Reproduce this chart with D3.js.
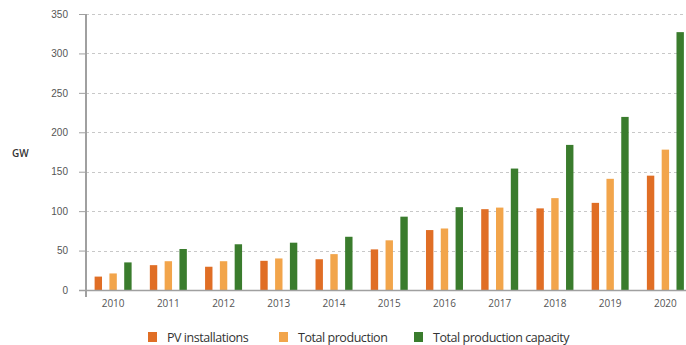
<!DOCTYPE html>
<html>
<head>
<meta charset="utf-8">
<script src="https://cdn.jsdelivr.net/npm/d3@7"></script>
<style>
  body { margin: 0; background: #fff; }
  svg { display: block; font-family: "Open Sans", "Noto Sans", sans-serif; }
</style>
</head>
<body>
<svg id="chart" width="686" height="345"></svg>
<script>
/*globals d3*/
var years = ["2010", "2011", "2012", "2013", "2014", "2015", "2016", "2017", "2018", "2019", "2020"];
var seriesNames = ["PV installations", "Total production", "Total production capacity"];
var pvInstallations = [17, 31.5, 29.5, 37, 39, 51.5, 76, 102.5, 103.5, 110.5, 145];
var totalProduction = [21, 36.5, 36.5, 40, 45.5, 63, 78, 104.5, 116.5, 141, 178];
var productionCapacity = [35, 52, 58, 60, 67.5, 93, 105, 154, 184, 219.5, 327];
var yTicks = [0, 50, 100, 150, 200, 250, 300, 350];
var colors = ["#e06e25", "#f2a54b", "#3a7c2d"];

(function () {
    "use strict";
    var svg = d3.select("#chart");
    var left = 86;

    var x = d3.scaleBand().domain(years).range([85.5, 693]).padding(0);
    var y = d3.scaleLinear().domain([0, 350]).range([290, 14]);
    // three bars per year, ~9px wide with ~5px gaps
    var xInner = d3.scaleBand().domain(d3.range(3)).range([-18.5, 18.5]).paddingInner(0.5).paddingOuter(0);

    // dashed gridlines
    svg.append("g")
        .selectAll("line")
        .data(yTicks.slice(1))
        .enter().append("line")
        .attr("x1", left).attr("x2", 686)
        .attr("y1", function (d) { return Math.round(y(d)) + 0.5; })
        .attr("y2", function (d) { return Math.round(y(d)) + 0.5; })
        .attr("stroke", "#c8c8c8")
        .attr("stroke-dasharray", "3,3");

    // bars
    var data = years.map(function (yr, i) {
        return [pvInstallations[i], totalProduction[i], productionCapacity[i]];
    });
    var groups = svg.append("g").selectAll("g")
        .data(data)
        .enter().append("g")
        .attr("transform", function (d, i) { return "translate(" + (x(years[i]) + x.bandwidth() / 2) + ",0)"; });
    groups.selectAll("rect")
        .data(function (d) { return d; })
        .enter().append("rect")
        .attr("x", function (d, j) { return xInner(j); })
        .attr("width", xInner.bandwidth())
        .attr("y", function (d) { return y(d); })
        .attr("height", function (d) { return y(0) - y(d); })
        .attr("fill", function (d, j) { return colors[j]; });

    // y axis
    var yAxis = svg.append("g")
        .attr("transform", "translate(" + left + ",0)")
        .call(d3.axisLeft(y).tickValues(yTicks).tickSize(7).tickPadding(11));
    yAxis.select(".domain").remove();
    yAxis.selectAll(".tick line").attr("stroke", "#a0a0a0");
    yAxis.selectAll(".tick text").attr("fill", "#555").style("font-size", "10px");
    svg.append("line")
        .attr("x1", left).attr("x2", left)
        .attr("y1", 14).attr("y2", 297)
        .attr("stroke", "#a0a0a0").attr("stroke-width", 2);
    // baseline
    svg.append("line")
        .attr("x1", 79).attr("x2", 686)
        .attr("y1", y(0) + 0.5).attr("y2", y(0) + 0.5)
        .attr("stroke", "#a0a0a0").attr("stroke-width", 1.5);

    // x labels
    svg.append("g").selectAll("text")
        .data(years)
        .enter().append("text")
        .attr("x", function (d) { return x(d) + x.bandwidth() / 2; })
        .attr("y", 307)
        .attr("text-anchor", "middle")
        .attr("fill", "#555")
        .style("font-size", "10px")
        .text(function (d) { return d; });

    // unit label
    svg.append("text")
        .attr("x", 12).attr("y", 157)
        .attr("fill", "#333")
        .style("font-size", "10px")
        .style("font-weight", "600")
        .text("GW");

    // legend
    var legendX = [148, 279, 414];
    var legend = svg.append("g").selectAll("g")
        .data(seriesNames)
        .enter().append("g")
        .attr("transform", function (d, i) { return "translate(" + legendX[i] + ",332)"; });
    legend.append("rect")
        .attr("width", 9).attr("height", 10)
        .attr("fill", function (d, i) { return colors[i]; });
    legend.append("text")
        .attr("x", 19).attr("y", 9.5)
        .attr("fill", "#333")
        .style("font-size", "12.5px")
        .style("letter-spacing", "-0.45px")
        .text(function (d) { return d; });
})();
</script>
</body>
</html>
